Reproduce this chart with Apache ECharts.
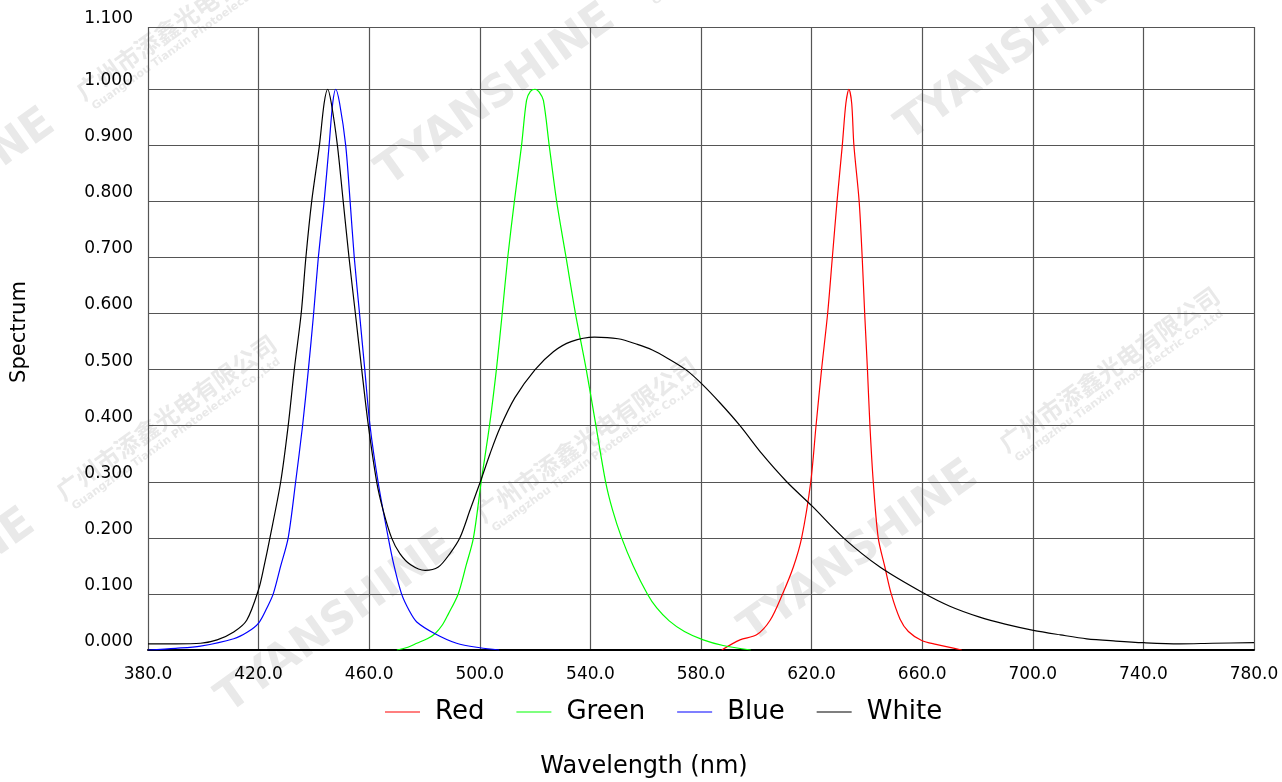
<!DOCTYPE html>
<html>
<head>
<meta charset="utf-8">
<script src="https://cdn.jsdelivr.net/npm/echarts@6/dist/echarts.min.js"></script>
<style>
  html, body { margin: 0; padding: 0; background: #fff; }
  #chart { width: 1282px; height: 782px; }
</style>
</head>
<body>
<div id="chart"></div>
<script>
// spectra: [wavelength nm, relative value]
const redData = [
  [587.5, 0.000], [594.1, 0.018], [600.1, 0.027], [605, 0.053], [609.5, 0.100], [613.4, 0.148],
  [616.4, 0.200], [619.7, 0.300], [621.6, 0.400], [623.6, 0.500], [625.8, 0.600], [627.5, 0.700],
  [629.2, 0.800], [631.1, 0.900], [632.4, 0.975], [633.5, 1.000], [634.5, 0.975], [635.3, 0.900],
  [637.2, 0.800], [638.3, 0.700], [639.2, 0.600], [640.2, 0.500], [641.1, 0.400], [642.3, 0.300],
  [644.1, 0.200], [646.5, 0.148], [648.8, 0.100], [652, 0.055], [655, 0.033], [659.8, 0.017],
  [665, 0.010], [674.3, 0.000]
];
const greenData = [
  [470, 0.000], [474, 0.005], [477.2, 0.012], [481, 0.020], [483.8, 0.029], [486.5, 0.045],
  [488.6, 0.064], [492.2, 0.100], [495, 0.150], [497.7, 0.200], [500.5, 0.300], [503.5, 0.400],
  [506, 0.500], [508.1, 0.600], [510.1, 0.700], [512.5, 0.800], [515.1, 0.900], [516.9, 0.980],
  [518.3, 0.996], [520, 1.000], [521.5, 0.995], [523.0, 0.980], [525.1, 0.900], [527.8, 0.800],
  [531.2, 0.700], [534.6, 0.600], [538.5, 0.500], [542, 0.400], [545.5, 0.300], [548, 0.250],
  [551.3, 0.200], [555.5, 0.150], [560.6, 0.100], [564, 0.075], [568.5, 0.052], [574, 0.033],
  [580.8, 0.018], [588, 0.008], [598, 0.000]
];
const blueData = [
  [380, 0.000], [390, 0.003], [399, 0.007], [411, 0.020], [416, 0.032], [420, 0.048],
  [423, 0.075], [425.3, 0.100], [428, 0.150], [430.7, 0.200], [433.4, 0.300], [435.9, 0.400],
  [438.0, 0.500], [439.9, 0.600], [441.6, 0.700], [443.7, 0.800], [445.5, 0.900], [446.8, 0.975],
  [447.9, 1.000], [449.3, 0.975], [451.5, 0.900], [453.1, 0.800], [454.6, 0.700], [456.5, 0.600],
  [458.4, 0.500], [460.3, 0.400], [463.2, 0.300], [466.9, 0.200], [469, 0.150], [471.7, 0.100],
  [474.5, 0.070], [477.2, 0.050], [483.8, 0.029], [491.6, 0.012], [500, 0.004], [507, 0.000]
];
const whiteData = [
  [380, 0.011], [390, 0.011], [399, 0.012], [405, 0.018], [411, 0.032], [415.7, 0.053],
  [420, 0.108], [422, 0.150], [424.1, 0.200], [428.0, 0.300], [430.7, 0.400], [432.9, 0.500],
  [435.4, 0.600], [437.1, 0.700], [439.2, 0.800], [442.0, 0.900], [443.7, 0.975], [445.0, 1.000],
  [446.3, 0.975], [448.5, 0.900], [450.6, 0.800], [452.7, 0.700], [455.0, 0.600], [457.3, 0.500],
  [459.7, 0.400], [462.7, 0.300], [465, 0.250], [468.1, 0.200], [471.1, 0.172], [475, 0.152],
  [480.2, 0.142], [485, 0.148], [489.2, 0.172], [492.8, 0.200], [496.5, 0.250], [500.2, 0.300],
  [503.7, 0.350], [507.2, 0.395], [512.7, 0.450], [520, 0.500], [526.6, 0.532], [533, 0.550],
  [541.5, 0.558], [550, 0.555], [557, 0.545], [562.4, 0.535], [568, 0.520], [574.5, 0.500],
  [580.2, 0.475], [587, 0.440], [594.1, 0.400], [602, 0.350], [611, 0.300], [620.3, 0.256],
  [631.5, 0.200], [644.7, 0.148], [660.3, 0.102], [670, 0.078], [680.5, 0.059], [690, 0.046],
  [700.2, 0.035], [710, 0.027], [719.5, 0.020], [730, 0.016], [740.2, 0.013], [753, 0.011],
  [765, 0.012], [780, 0.013]
];
const seriesNames = ['Red', 'Green', 'Blue', 'White'];
const seriesColors = ['#ff0000', '#00ff00', '#0000ff', '#000000'];

const FONT = '"DejaVu Sans", Arial, sans-serif';
const GRID = { left: 148, right: 28, top: 27, bottom: 132 };
const Y_MAX = 1.111; // frame top sits a little above 1.1; its label reads 1.100

// horizontal grid colours: lines 0 … 1.1, then the frame at Y_MAX; the 1.1 line itself is not drawn
const hLineColors = Array.from({ length: 13 }, (_, i) => (i === 11 ? 'rgba(0,0,0,0)' : '#555'));

// faint company watermark, repeated along diagonals
const marks = [
  [-165, 300], [395, 195], [915, 150], [235, 722], [-185, 700], [758, 652]
];
const watermark = marks.map(([x, y]) => ({
  type: 'group', x, y, rotation: 0.62, z: -10, silent: true,
  children: [
    { type: 'text', x: 0, y: 0, z: -10,
      style: { text: 'TYANSHINE', font: 'bold 44px ' + FONT, fill: '#e9e9e9',
               textVerticalAlign: 'bottom' } },
    { type: 'text', x: 318, y: -14, z: -10,
      style: { text: '广州市添鑫光电有限公司', font: 'bold 24px "Noto Sans CJK SC"', fill: '#e9e9e9',
               textVerticalAlign: 'bottom' } },
    { type: 'text', x: 322, y: -1, z: -10,
      style: { text: 'Guangzhou Tianxin Photoelectric Co.,Ltd', font: 'bold 11px ' + FONT, fill: '#e9e9e9',
               textVerticalAlign: 'bottom' } }
  ]
}));

const chart = echarts.init(document.getElementById('chart'));
chart.setOption({
  backgroundColor: '#fff',
  animation: false,
  grid: GRID,
  legend: {
    data: seriesNames,
    left: 385,
    top: 699,
    padding: 0,
    icon: 'rect',
    itemWidth: 35,
    itemHeight: 1,
    itemGap: 32,
    textStyle: { fontFamily: FONT, fontSize: 26, color: '#000', padding: [0, 0, 0, 10] }
  },
  xAxis: {
    type: 'value',
    min: 380,
    max: 780,
    interval: 40,
    axisLine: { show: true, lineStyle: { color: '#000', width: 2 } },
    axisTick: { show: false },
    axisLabel: { margin: 16, fontFamily: FONT, fontSize: 17, color: '#000',
                 formatter: v => v.toFixed(1) },
    splitLine: { show: true, lineStyle: { color: '#555', width: 1.2 } }
  },
  yAxis: {
    type: 'value',
    min: 0,
    max: Y_MAX,
    interval: 0.1,
    axisLine: { show: false },
    axisTick: { show: false },
    axisLabel: { margin: 15, fontFamily: FONT, fontSize: 17, color: '#000', verticalAlign: 'bottom',
                 formatter: v => (v > 1.105 ? '1.100' : v > 1.05 ? '' : v.toFixed(3)) },
    splitLine: { show: true, lineStyle: { color: hLineColors, width: 1.2 } }
  },
  graphic: watermark.concat([
    { type: 'text', x: 644, y: 767, z: 10,
      style: { text: 'Wavelength (nm)', font: '24px ' + FONT, fill: '#000',
               textAlign: 'center', textVerticalAlign: 'middle' } },
    { type: 'text', x: 20, y: 332, rotation: Math.PI / 2, z: 10,
      style: { text: 'Spectrum', font: '21px ' + FONT, fill: '#000',
               textAlign: 'center', textVerticalAlign: 'middle' } }
  ]),
  series: [redData, greenData, blueData, whiteData].map((d, i) => ({
    name: seriesNames[i],
    type: 'line',
    data: d,
    symbol: 'none',
    smooth: 0.3,
    color: seriesColors[i],
    lineStyle: { color: seriesColors[i], width: 1.2 },
    z: 3
  }))
});
</script>
</body>
</html>
